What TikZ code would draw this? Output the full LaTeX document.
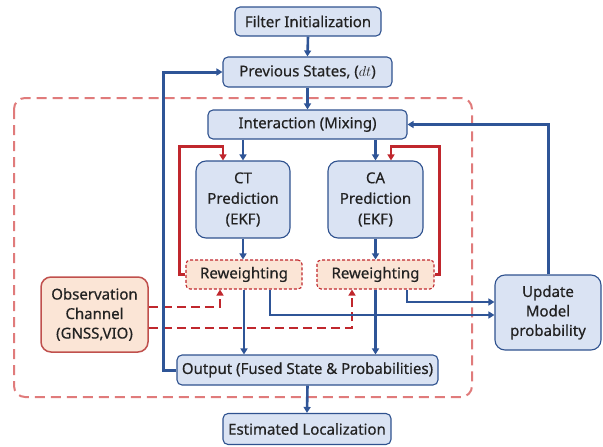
\documentclass[tikz,border=0pt]{standalone}
\usepackage{fontspec}
\setmainfont{Noto Sans}[FakeBold=0.5]
\usetikzlibrary{arrows.meta}

\definecolor{boxblue}{HTML}{DAE3F3}
\definecolor{edgeblue}{HTML}{2F528F}
\definecolor{linkblue}{HTML}{2F5597}
\definecolor{peach}{HTML}{FBE5D6}
\definecolor{darkred}{HTML}{C0272D}
\definecolor{obsred}{HTML}{C0504D}
\definecolor{softred}{HTML}{E07B7B}
\definecolor{inktext}{HTML}{222222}

\begin{document}
\begin{tikzpicture}[x=1pt,y=-1pt,
  font=\fontsize{15}{20.5}\selectfont, text=inktext,
  bluebox/.style={draw=edgeblue, line width=1.1pt, fill=boxblue,
    rounded corners=5pt, inner sep=0pt, align=center},
  bigbox/.style={bluebox, rounded corners=10pt},
  rwbox/.style={draw=darkred, line width=1.1pt, dash pattern=on 3pt off 2pt,
    fill=peach, rounded corners=4pt, inner sep=0pt, align=center},
  obsbox/.style={draw=obsred, line width=1.5pt, fill=peach,
    rounded corners=10pt, inner sep=0pt, align=center},
  tip/.style={-{Triangle[length=6pt,width=7pt]}},
  bluethick/.style={tip, draw=linkblue, line width=2.6pt},
  bluethin/.style={tip, draw=linkblue, line width=1.6pt},
  redloop/.style={tip, draw=darkred, line width=2.6pt},
  reddash/.style={tip, draw=darkred, line width=2.4pt, dash pattern=on 9pt off 5pt},
]
\useasboundingbox (0,0) rectangle (603,447);

% region that groups the filter bank
\draw[softred, line width=2pt, dash pattern=on 10pt off 6pt, rounded corners=11pt]
  (14,98) rectangle (472,397);

% nodes
\node[bluebox, minimum width=146pt, minimum height=29pt] (init) at (308,21.5) {Filter Initialization};
\node[bluebox, minimum width=169pt, minimum height=30pt] (prev) at (307.5,72) {Previous States, ($dt$)};
\node[bluebox, minimum width=199pt, minimum height=29pt] (inter) at (307.5,124.5) {Interaction (Mixing)};
\node[bigbox, minimum width=94pt, minimum height=77pt] (ct) at (243,199.5) {CT\\Prediction\\(EKF)};
\node[bigbox, minimum width=95pt, minimum height=77pt] (ca) at (375.5,199.5) {CA\\Prediction\\(EKF)};
\node[rwbox, minimum width=116pt, minimum height=29pt] (rwl) at (244,274.5) {Reweighting};
\node[rwbox, minimum width=117pt, minimum height=29pt] (rwr) at (375.5,274.5) {Reweighting};
\node[obsbox, minimum width=107pt, minimum height=75pt, font=\fontsize{15}{19.5}\selectfont] (obs) at (94.5,314.5) {Observation\\Channel\\(GNSS,VIO)};
\node[bigbox, minimum width=106pt, minimum height=75pt, font=\fontsize{15}{19.5}\selectfont] (upd) at (548,312.5) {Update\\Model\\probability};
\node[bluebox, minimum width=261pt, minimum height=30pt] (out) at (307.5,370) {Output (Fused State \& Probabilities)};
\node[bluebox, minimum width=168pt, minimum height=31pt] (est) at (307,429) {Estimated Localization};

% observation inputs to the reweighting steps
\draw[reddash] ([yshift=7.5pt]obs.east) -| ([xshift=-24pt]rwl.south);
\draw[reddash] ([yshift=-13.5pt]obs.east) -| ([xshift=-23.5pt]rwr.south);

% main flow
\draw[bluethick] (init.south) -- (prev.north);
\draw[bluethick, line width=2.2pt] (prev.south) -- (inter.north);
\draw[bluethin] (ct.north |- inter.south) -- (ct.north);
\draw[bluethick] (ca.north |- inter.south) -- (ca.north);
\draw[bluethin] (ct.south) -- (ct.south |- rwl.north);
\draw[bluethick] (ca.south) -- (ca.south |- rwr.north);
\draw[bluethin] (rwl.south) -- (rwl.south |- out.north);
\draw[bluethick] (rwr.south) -- (rwr.south |- out.north);
\draw[bluethick] (out.south) -- (est.north);

% likelihoods to the model probability update
\draw[bluethick] ([xshift=26pt]rwl.south) |- ([yshift=-2.5pt]upd.west);
\draw[bluethick] ([xshift=31.5pt]rwr.south) |- ([yshift=10.5pt]upd.west);

% feedback loops
\draw[bluethick, line width=3pt] (upd.north) |- (inter.east);
\draw[bluethick, line width=3pt] (out.west) -- ++(-13,0) |- (prev.west);
\draw[redloop] (rwl.west) -- ++(-6,0) |- ([xshift=-20pt,yshift=14pt]ct.north) -- ([xshift=-20pt]ct.north);
\draw[redloop] (rwr.east) -- ++(5,0) |- ([xshift=15.5pt,yshift=14pt]ca.north) -- ([xshift=15.5pt]ca.north);
\end{tikzpicture}
\end{document}
